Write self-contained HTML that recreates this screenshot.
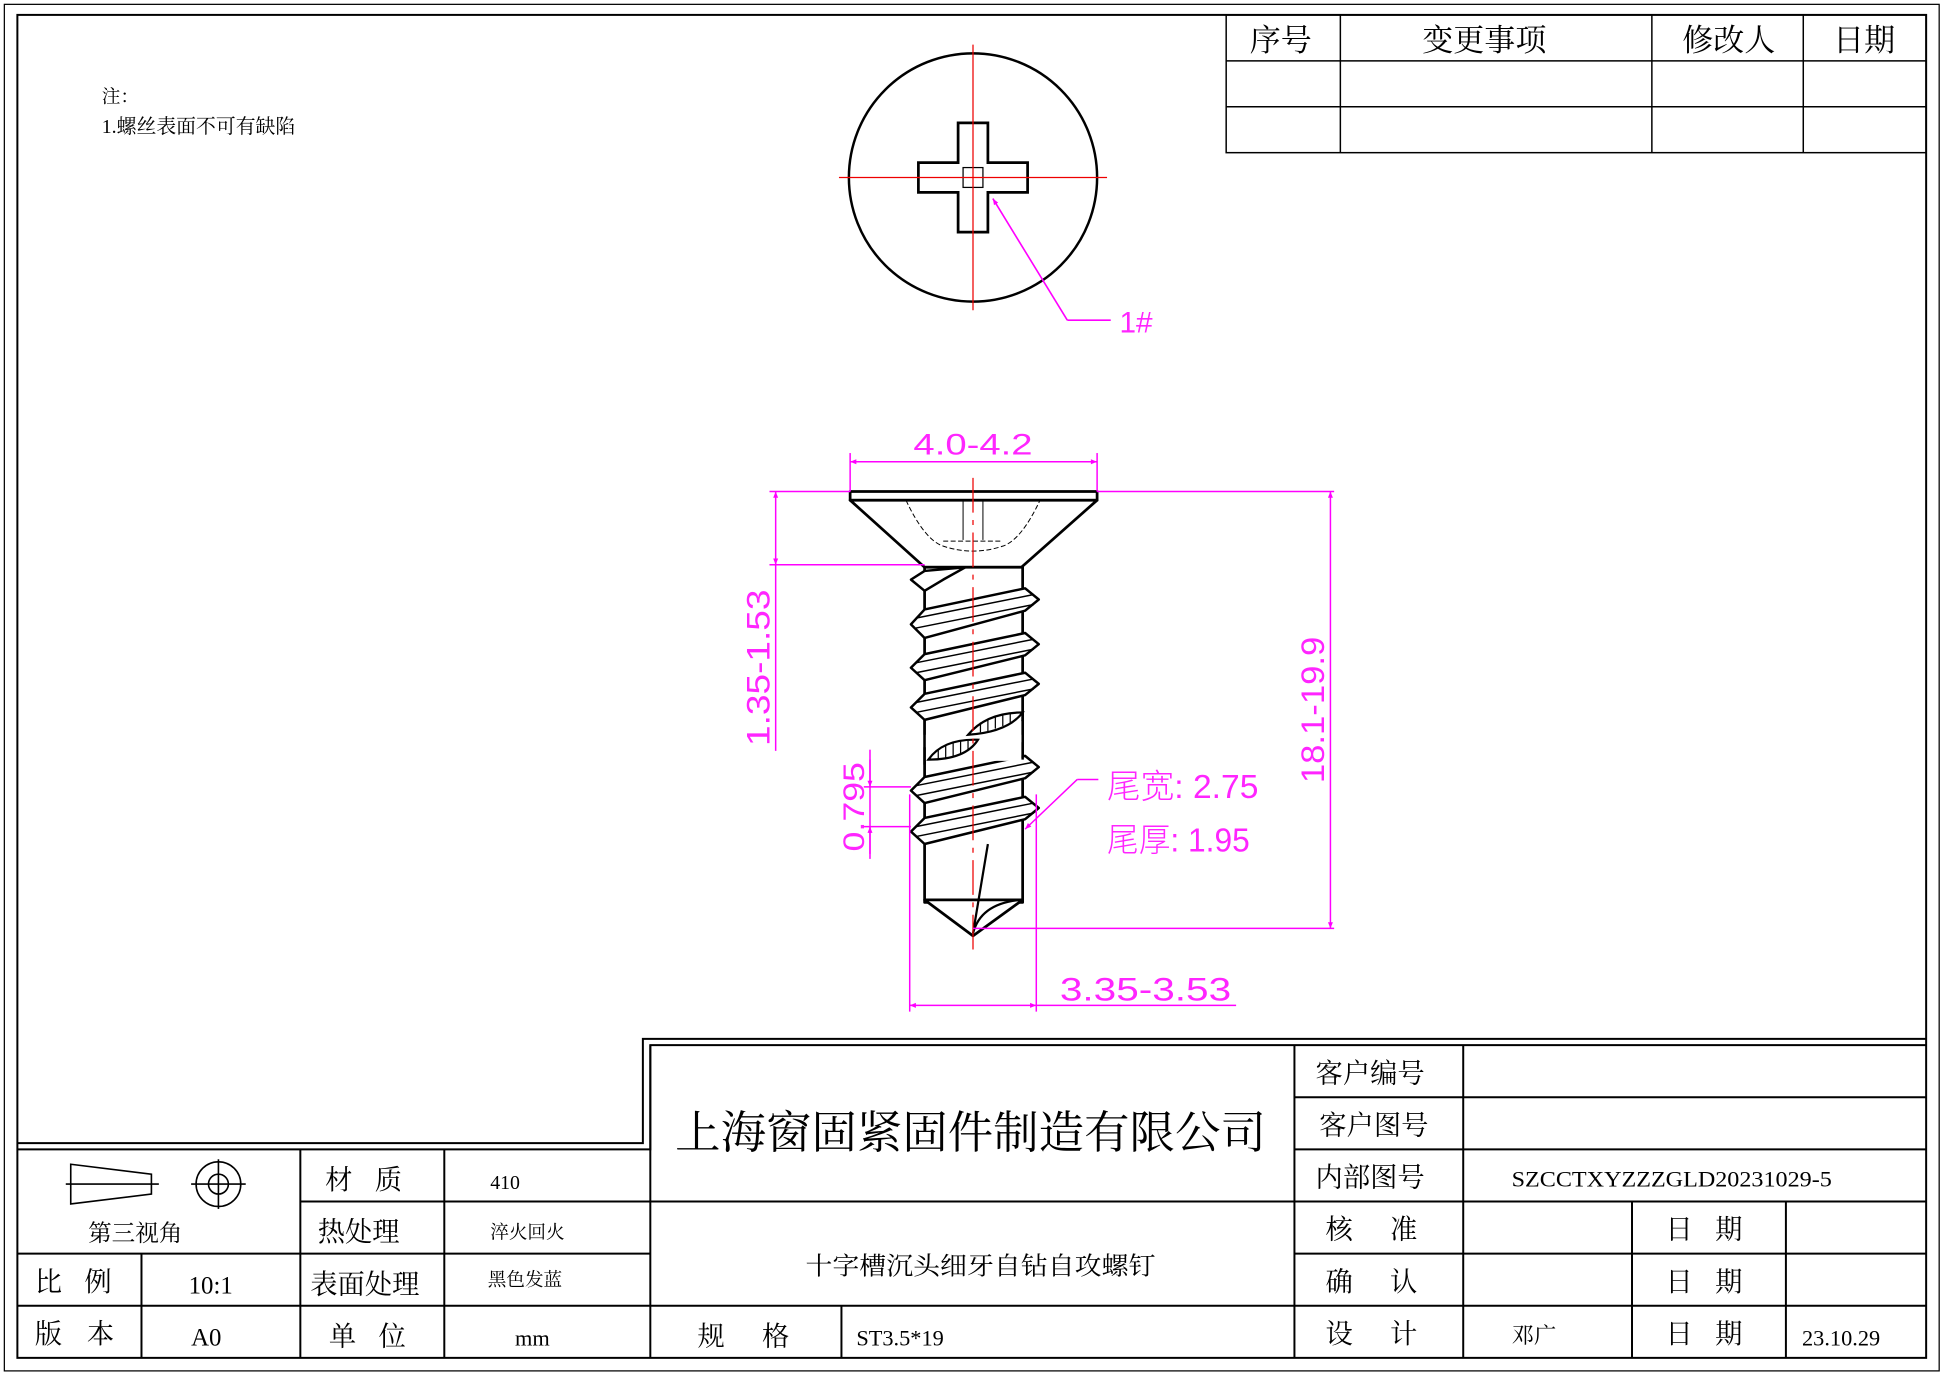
<!DOCTYPE html>
<html><head><meta charset="utf-8"><style>
html,body{margin:0;padding:0;background:#fff}
svg{display:block}
text{font-family:"Liberation Serif","Noto Serif CJK SC",serif;fill:#000}
.m{fill:#ff00ff;font-family:"Liberation Sans","Noto Sans CJK SC",sans-serif;font-weight:300;opacity:0.85}
</style></head><body>
<svg width="1946" height="1374" viewBox="0 0 1568 1107" preserveAspectRatio="none" xmlns="http://www.w3.org/2000/svg">
<defs>
<marker id="a" viewBox="0 0 10 10" refX="10" refY="5" markerWidth="9" markerHeight="5" orient="auto-start-reverse" markerUnits="userSpaceOnUse"><path d="M0,1 L10,5 L0,9z" fill="#ff00ff"/></marker>
</defs>
<rect x="0" y="0" width="1568" height="1107" fill="#fff"/>
<rect x="3.5" y="3.5" width="1559" height="1101" fill="none" stroke="#000" stroke-width="1"/>
<rect x="14" y="12" width="1538" height="1082" fill="none" stroke="#000" stroke-width="1.6"/>

<text x="82" y="83" font-size="15">注：</text>
<text x="82" y="107" font-size="16">1.螺丝表面不可有缺陷</text>

<g stroke="#000" stroke-width="1.2" fill="none">
<rect x="988" y="12" width="564" height="111"/>
<line x1="988" y1="49" x2="1552" y2="49"/><line x1="988" y1="86" x2="1552" y2="86"/>
<line x1="1080" y1="12" x2="1080" y2="123"/><line x1="1331" y1="12" x2="1331" y2="123"/><line x1="1453" y1="12" x2="1453" y2="123"/>
</g>
<g font-size="25" text-anchor="middle">
<text x="1032" y="41">序号</text><text x="1196" y="41">变更事项</text><text x="1393" y="41">修改人</text><text x="1502" y="41">日期</text>
</g>

<circle cx="784" cy="143" r="100" fill="none" stroke="#000" stroke-width="2"/>
<path d="M772,99 H796 V131 H828 V155 H796 V187 H772 V155 H740 V131 H772 Z" fill="none" stroke="#000" stroke-width="2.2"/>
<rect x="776" y="135" width="16" height="16" fill="none" stroke="#000" stroke-width="1"/>
<line x1="676" y1="143" x2="892" y2="143" stroke="#e00" stroke-width="1"/>
<line x1="784" y1="36" x2="784" y2="250" stroke="#e00" stroke-width="1"/>
<polyline points="860,258 895,258" stroke="#ff00ff" stroke-width="1.3" fill="none"/>
<line x1="860" y1="258" x2="800" y2="160" stroke="#ff00ff" stroke-width="1.3" marker-end="url(#a)"/>
<text class="m" x="902" y="268" font-size="24">1#</text>

<g stroke="#000" stroke-width="2.2" fill="#fff" stroke-linejoin="round">
<rect x="685" y="396" width="199" height="7"/>
<polygon points="685,403 884,403 823,457 745,457"/>
<rect x="745" y="457" width="79" height="270"/>
<polygon points="745,725 824,725 784,754"/>
</g>
<g stroke="#000" stroke-width="0.8" fill="none">
<path d="M730,403 Q745,435 760,440 Q784,448 808,440 Q823,435 838,403" stroke-dasharray="4,2"/>
<line x1="776" y1="403" x2="776" y2="435"/><line x1="792" y1="403" x2="792" y2="435"/>
<line x1="760" y1="436" x2="808" y2="436" stroke-dasharray="4,2"/>
</g>
<g stroke="#000" stroke-width="2" fill="#fff" stroke-linejoin="round">
<polygon points="745,460 778,457 760,467 745,476 734,467"/>
<polygon points="745,491 826,474 837,483 826,492 745,514 734,503"/>
<line x1="738" y1="498" x2="833" y2="479" stroke-width="1.2"/><line x1="738" y1="506" x2="833" y2="487" stroke-width="1.2"/>
<polygon points="745,527 826,510 837,519 826,528 745,548 734,538"/>
<line x1="738" y1="534" x2="833" y2="515" stroke-width="1.2"/><line x1="738" y1="542" x2="833" y2="523" stroke-width="1.2"/>
<polygon points="745,559 826,542 837,551 826,560 745,580 734,570"/>
<line x1="738" y1="566" x2="833" y2="547" stroke-width="1.2"/><line x1="738" y1="574" x2="833" y2="555" stroke-width="1.2"/>
<polygon points="745,626 826,609 837,618 826,627 745,647 734,637"/>
<line x1="738" y1="633" x2="833" y2="614" stroke-width="1.2"/><line x1="738" y1="641" x2="833" y2="622" stroke-width="1.2"/>
<polygon points="745,659 826,642 837,651 826,660 745,680 734,670"/>
<line x1="738" y1="666" x2="833" y2="647" stroke-width="1.2"/><line x1="738" y1="674" x2="833" y2="655" stroke-width="1.2"/>
</g>
<rect x="746" y="581" width="77" height="32" fill="#fff"/>
<path d="M745,580 L745,592 M824,580 L824,592 M745,602 L745,616 M824,598 L824,612" stroke="#000" stroke-width="2"/>
<path d="M780,592 Q795,574 824,574 Q812,590 780,592Z" fill="#fff" stroke="#000" stroke-width="1.8"/>
<path d="M748,612 Q760,595 788,596 Q778,612 748,612Z" fill="#fff" stroke="#000" stroke-width="1.8"/>
<g stroke="#000" stroke-width="1">
<line x1="790" y1="582" x2="790" y2="590"/><line x1="796" y1="579" x2="796" y2="589"/><line x1="802" y1="577" x2="802" y2="587"/><line x1="808" y1="576" x2="808" y2="585"/><line x1="814" y1="575" x2="814" y2="582"/>
<line x1="756" y1="604" x2="756" y2="611"/><line x1="762" y1="600" x2="762" y2="611"/><line x1="768" y1="598" x2="768" y2="610"/><line x1="774" y1="597" x2="774" y2="608"/><line x1="780" y1="597" x2="780" y2="604"/>
</g>
<path d="M796,680 L784,752 M784,752 Q790,728 822,725" stroke="#000" stroke-width="1.8" fill="none"/>
<line x1="784" y1="385" x2="784" y2="770" stroke="#e00" stroke-width="1" stroke-dasharray="28,6,4,6"/>

<g stroke="#ff00ff" stroke-width="1.2" fill="none">
<line x1="685" y1="365" x2="685" y2="396"/><line x1="884" y1="365" x2="884" y2="396"/>
<line x1="685" y1="372" x2="884" y2="372" marker-start="url(#a)" marker-end="url(#a)"/>
<line x1="620" y1="396" x2="685" y2="396"/><line x1="620" y1="455" x2="745" y2="455"/>
<line x1="625" y1="455" x2="625" y2="605"/>
<line x1="625" y1="396" x2="625" y2="455" marker-start="url(#a)" marker-end="url(#a)"/>
<line x1="884" y1="396" x2="1075" y2="396"/><line x1="784" y1="748" x2="1075" y2="748"/>
<line x1="1072" y1="396" x2="1072" y2="748" marker-start="url(#a)" marker-end="url(#a)"/>
<line x1="696" y1="634" x2="734" y2="634"/><line x1="696" y1="666" x2="734" y2="666"/>
<line x1="701" y1="604" x2="701" y2="692"/>
<line x1="701" y1="612" x2="701" y2="634" marker-end="url(#a)"/>
<line x1="701" y1="688" x2="701" y2="666" marker-end="url(#a)"/>
<line x1="733" y1="640" x2="733" y2="815"/><line x1="835" y1="640" x2="835" y2="815"/>
<line x1="733" y1="810" x2="835" y2="810" marker-start="url(#a)" marker-end="url(#a)"/>
<line x1="835" y1="810" x2="996" y2="810"/>
<polyline points="885,628 868,628"/>
<line x1="868" y1="628" x2="826" y2="668" marker-end="url(#a)"/>
</g>
<text class="m" x="784" y="366" font-size="24" text-anchor="middle" textLength="96" lengthAdjust="spacingAndGlyphs">4.0-4.2</text>
<text class="m" x="0" y="0" font-size="26" text-anchor="middle" transform="translate(620,538) rotate(-90)" textLength="126" lengthAdjust="spacingAndGlyphs">1.35-1.53</text>
<text class="m" x="0" y="0" font-size="26" text-anchor="middle" transform="translate(1067,572) rotate(-90)" textLength="118" lengthAdjust="spacingAndGlyphs">18.1-19.9</text>
<text class="m" x="0" y="0" font-size="24" text-anchor="middle" transform="translate(696,650) rotate(-90)" textLength="72" lengthAdjust="spacingAndGlyphs">0.795</text>
<text class="m" x="923" y="806" font-size="26" text-anchor="middle" textLength="138" lengthAdjust="spacingAndGlyphs">3.35-3.53</text>
<text class="m" x="892" y="643" font-size="27" textLength="122" lengthAdjust="spacingAndGlyphs">尾宽: 2.75</text>
<text class="m" x="892" y="686" font-size="27" textLength="115" lengthAdjust="spacingAndGlyphs">尾厚: 1.95</text>

<g stroke="#000" stroke-width="1.6" fill="none">
<polyline points="14,921 518,921 518,837 1552,837"/>
<polyline points="14,926 524,926 524,842 1552,842"/>
<line x1="524" y1="842" x2="524" y2="1094"/>
<line x1="1043" y1="884" x2="1552" y2="884"/>
<line x1="1043" y1="926" x2="1552" y2="926"/>
<line x1="242" y1="968" x2="1552" y2="968"/>
<line x1="14" y1="1010" x2="524" y2="1010"/><line x1="1043" y1="1010" x2="1552" y2="1010"/>
<line x1="14" y1="1052" x2="1552" y2="1052"/>
<line x1="242" y1="926" x2="242" y2="1094"/><line x1="358" y1="926" x2="358" y2="1094"/>
<line x1="114" y1="1010" x2="114" y2="1094"/>
<line x1="1043" y1="842" x2="1043" y2="1094"/><line x1="1179" y1="842" x2="1179" y2="1094"/>
<line x1="1315" y1="968" x2="1315" y2="1094"/><line x1="1439" y1="968" x2="1439" y2="1094"/>
<line x1="678" y1="1052" x2="678" y2="1094"/>
</g>
<g stroke="#000" stroke-width="1.3" fill="none">
<polygon points="57,938 122,946 122,962 57,970"/>
<line x1="53" y1="954" x2="128" y2="954"/>
<circle cx="176" cy="954" r="18"/><circle cx="176" cy="954" r="8"/>
<line x1="154" y1="954" x2="198" y2="954"/><line x1="176" y1="934" x2="176" y2="974"/>
</g>
<g font-size="22">
<text x="71" y="1000" font-size="19" fill="#444">第三视角</text>
<text x="262" y="958">材</text><text x="302" y="958">质</text><text x="395" y="958" font-size="16">410</text>
<text x="256" y="1000">热处理</text><text x="395" y="998" font-size="15" fill="#aaa">淬火回火</text>
<text x="250" y="1042">表面处理</text><text x="393" y="1036" font-size="15" fill="#aaa">黑色发蓝</text>
<text x="265" y="1084">单</text><text x="305" y="1084">位</text><text x="415" y="1084" font-size="18">mm</text>
<text x="28" y="1040">比</text><text x="68" y="1040">例</text><text x="152" y="1042" font-size="20">10:1</text>
<text x="28" y="1082">版</text><text x="70" y="1082">本</text><text x="154" y="1084" font-size="20">A0</text>
<text x="562" y="1084">规</text><text x="614" y="1084">格</text><text x="690" y="1084" font-size="18">ST3.5*19</text>
<text x="1060" y="872">客户编号</text><text x="1063" y="914">客户图号</text><text x="1060" y="956">内部图号</text>
<text x="1068" y="998">核</text><text x="1120" y="998">准</text>
<text x="1068" y="1040">确</text><text x="1120" y="1040">认</text>
<text x="1068" y="1082">设</text><text x="1120" y="1082">计</text>
<text x="1342" y="998">日</text><text x="1382" y="998">期</text>
<text x="1342" y="1040">日</text><text x="1382" y="1040">期</text>
<text x="1342" y="1082">日</text><text x="1382" y="1082">期</text>
<text x="1218" y="956" font-size="18" textLength="258" lengthAdjust="spacingAndGlyphs">SZCCTXYZZZGLD20231029-5</text>
<text x="1218" y="1082" font-size="18" fill="#888">邓广</text>
<text x="1452" y="1084" font-size="18">23.10.29</text>
</g>
<text x="782" y="925" font-size="36" text-anchor="middle" textLength="476" lengthAdjust="spacingAndGlyphs">上海窗固紧固件制造有限公司</text>
<text x="790" y="1027" font-size="20" text-anchor="middle" textLength="282" lengthAdjust="spacingAndGlyphs">十字槽沉头细牙自钻自攻螺钉</text>
</svg>
</body></html>
